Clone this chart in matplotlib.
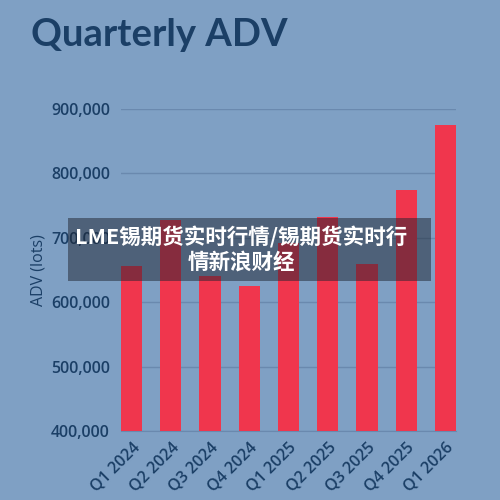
import matplotlib.pyplot as plt
from matplotlib.patches import Rectangle
from matplotlib.ticker import FuncFormatter

# Datos
quarters = ["Q1 2024", "Q2 2024", "Q3 2024", "Q4 2024", "Q1 2025",
            "Q2 2025", "Q3 2025", "Q4 2025", "Q1 2026"]
adv = [656000, 728000, 641000, 625000, 692000,
       732000, 659000, 774000, 875000]
y_ticks = [400000, 500000, 600000, 700000, 800000, 900000]

title = "Quarterly ADV"
y_label = "ADV (lots)"
banner = "LME锡期货实时行情/锡期货实时行\n情新浪财经"

BG = "#7fa0c4"
NAVY = "#1b3f66"
RED = "#f0364d"

plt.rcParams["font.family"] = ["Open Sans", "DejaVu Sans"]

fig = plt.figure(figsize=(5, 5), dpi=100, facecolor=BG)
ax = fig.add_axes([0.242, 0.138, 0.67, 0.644])
ax.set_facecolor(BG)

x = list(range(len(quarters)))
width = 0.54
ax.bar(x, adv, width=width, color=RED, zorder=3)

ax.set_xlim(-width / 2, len(quarters) - 1 + width / 2)
ax.set_ylim(400000, 900000)
ax.set_yticks(y_ticks)
ax.yaxis.set_major_formatter(FuncFormatter(lambda v, p: f"{v:,.0f}"))
ax.grid(axis="y", color="#6a89ae", linewidth=1, zorder=1)

for side in ["top", "right", "left"]:
    ax.spines[side].set_visible(False)
ax.spines["bottom"].set_color("#6a89ae")

ax.tick_params(axis="both", length=0, colors=NAVY, labelsize=11.5)
ax.tick_params(axis="y", pad=8)
ax.tick_params(axis="x", pad=6)
ax.set_xticks(x)
ax.set_xticklabels(quarters, rotation=45, ha="right", va="top",
                   rotation_mode="anchor", fontweight="semibold")
for lab in ax.get_yticklabels():
    lab.set_fontweight("semibold")

ax.set_ylabel(y_label, color=NAVY, fontsize=11.5, labelpad=3)

fig.text(0.062, 0.93, title, color=NAVY, fontsize=27.5,
         fontfamily="Lato", fontweight="bold", va="center")

# Banda superpuesta
fig.patches.append(Rectangle((0.136, 0.438), 0.726, 0.126,
                             transform=fig.transFigure,
                             facecolor="#1e2430", alpha=0.5,
                             zorder=10))
fig.text(0.483, 0.501, banner, color="white", fontsize=15.5,
         fontweight="bold", ha="center", va="center",
         linespacing=1.15, zorder=11,
         family=["Noto Sans CJK SC", "DejaVu Sans"])

fig.savefig("out.png", dpi=100, facecolor=BG)
